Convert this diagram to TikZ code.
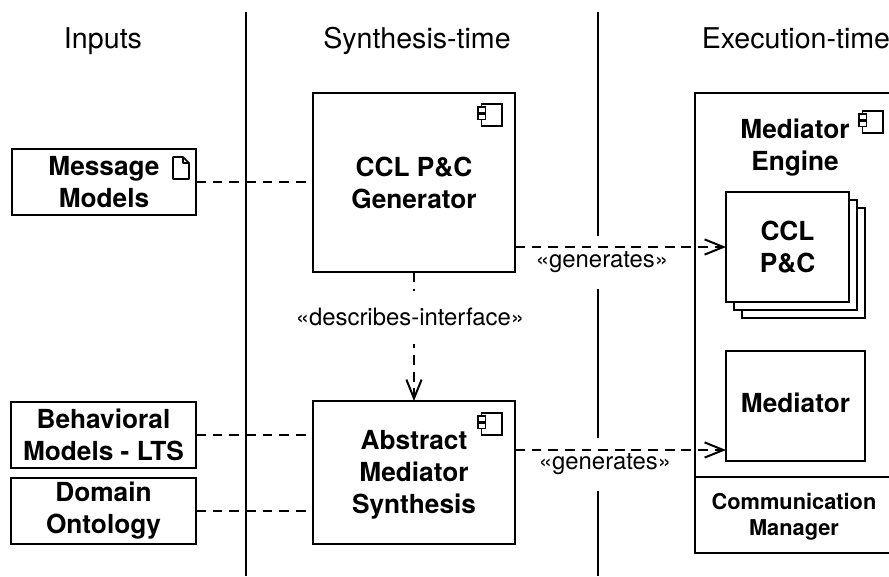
\documentclass[tikz,border=0pt]{standalone}
\usepackage{fontspec}
\setmainfont{TeX Gyre Heros}
\usetikzlibrary{arrows.meta}

\tikzset{
  box/.style={draw,fill=white,line width=1.7pt,inner sep=0pt,outer sep=0pt,align=center,
    font=\fontsize{22.4}{27.3}\selectfont\bfseries},
  boxlabel/.style={box,draw=none,fill=none},
  title/.style={anchor=base,font=\fontsize{24.4}{29}\selectfont},
  stereotype/.style={fill=white,inner sep=0pt,minimum height=1.59cm,font=\fontsize{20.4}{24}\selectfont},
  depends/.style={line width=1.7pt,dash pattern=on 8.4pt off 5.8pt},
  opentip/.style={-{Straight Barb[length=16pt,width=13pt,line width=1.7pt]}}
}

\newcommand{\componenticon}[1]{
  \begin{scope}[shift={(#1)},line width=1.2pt]
    \draw (3.5,0) rectangle (24,22);
    \draw[fill=white] (0,3) rectangle (7.5,8.5);
    \draw[fill=white] (0,10) rectangle (7.5,15.5);
  \end{scope}
}

\begin{document}
\begin{tikzpicture}[x=0.03cm,y=-0.03cm]
  \useasboundingbox (0,0) rectangle (889,576);
  \clip (0,0) rectangle (889,576);

  % Columns
  \node[title] (inputs) at (103,48) {Inputs};
  \node[title] (synthesis) at (417,48) {Synthesis-time};
  \node[title] (execution) at (796,48) {Execution-time};
  \coordinate (left_top) at (246,12);
  \coordinate (left_bottom) at (246,576);
  \coordinate (right_top) at (598,12);
  \coordinate (right_bottom) at (598,576);
  \draw[line width=1.7pt] (left_top) -- (left_bottom);
  \draw[line width=1.7pt] (right_top) -- (right_bottom);

  % Inputs
  \node[box,minimum width=5.52cm,minimum height=1.98cm] (message) at (104,182) {Message\\Models};
  \node[box,minimum width=5.55cm,minimum height=1.98cm] (behavioral) at (103.5,435) {Behavioral\\Models - LTS};
  \node[box,minimum width=5.55cm,minimum height=1.98cm] (domain) at (103.5,511) {Domain\\Ontology};

  % Synthesis-time
  \node[box,minimum width=6.06cm,minimum height=5.37cm] (generator) at (414,182.5) {CCL P\&C\\Generator};
  \node[box,minimum width=6.06cm,minimum height=4.29cm] (abstract) at (414,472.5) {};
  \node[boxlabel] (abstract_label) at (414,474.5) {Abstract\\Mediator\\Synthesis};

  % Execution-time
  \node[box,minimum width=5.94cm,minimum height=13.8cm] (engine) at (794,323) {};
  \node[boxlabel] (engine_label) at (795,148) {Mediator\\Engine};
  \node[box,minimum width=3.69cm,minimum height=3.3cm] (ccl_back) at (803.5,263) {};
  \node[box,minimum width=3.69cm,minimum height=3.3cm] (ccl_middle) at (795.5,255) {};
  \node[box,minimum width=3.69cm,minimum height=3.3cm] (ccl) at (787.5,247) {CCL\\P\&C};
  \node[box,minimum width=4.17cm,minimum height=3.3cm,text depth=5pt] (mediator) at (795.5,406) {Mediator};
  \node[box,minimum width=5.94cm,minimum height=2.28cm] (manager) at (794,515) {};
  \node[boxlabel,font=\fontsize{18.6}{22.2}\selectfont\bfseries] (manager_label) at (794,517) {Communication\\Manager};
  \draw[line width=2.2pt] (manager.north west) -- (manager.north east);

  % Icons
  \componenticon{478,104}
  \componenticon{478,413}
  \componenticon{859,111}
  \draw[line width=1.4pt,line join=round] (173,157) -- (183,157) -- (189,163) -- (189,179) -- (173,179) -- cycle;
  \draw[line width=1.2pt,line join=round] (183,157) -- (183,163) -- (189,163);

  % Dependencies
  \node[stereotype] (generates_ccl) at (602,262) {«generates»};
  \node[stereotype] (generates_mediator) at (605,464) {«generates»};
  \coordinate (mediator_in) at (mediator.west |- 0,450);

  \draw[depends] (message) -- (message -| generator.west);
  \draw[depends] (behavioral) -- (behavioral -| abstract.west);
  \draw[depends] (domain) -- (domain -| abstract.west);
  \draw[depends,opentip] (generator.east |- ccl.west) -- (ccl.west);
  \draw[depends,opentip] (abstract.east |- mediator_in) -- (mediator_in);
  \draw[depends,opentip] (generator.south) -- (abstract.north);

  \node[stereotype] (describes) at (410,317) {«describes-interface»};
\end{tikzpicture}
\end{document}
